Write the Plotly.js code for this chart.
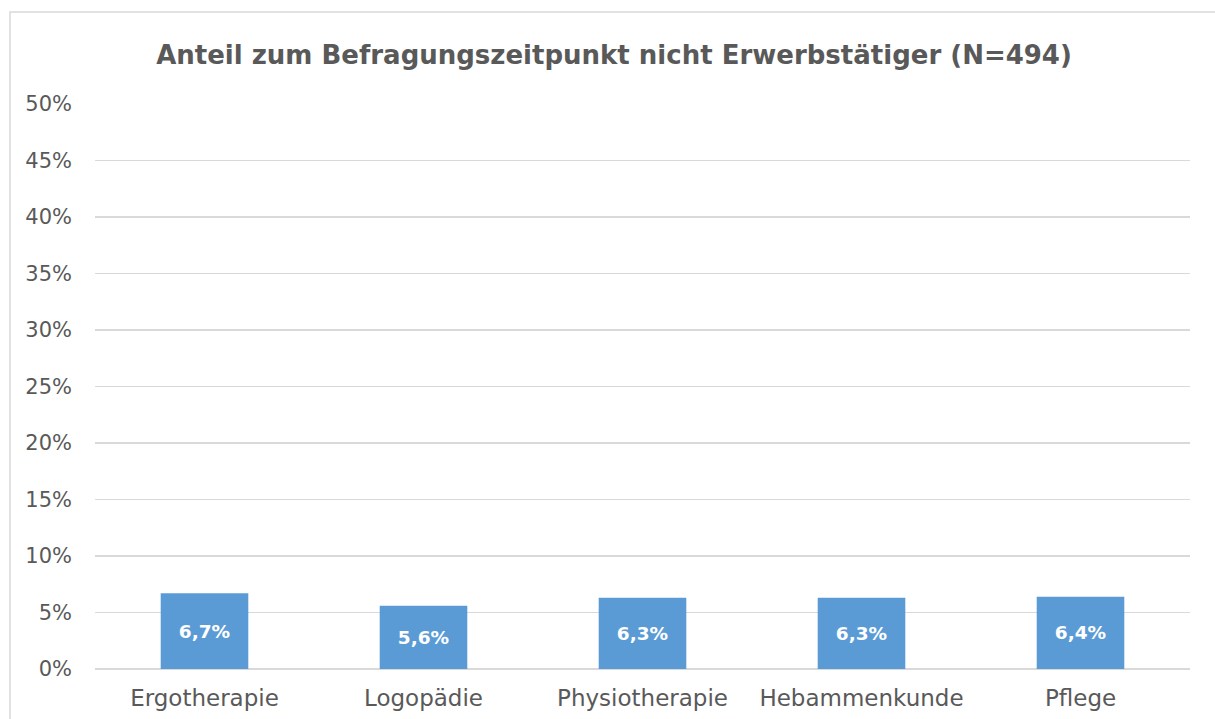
<!DOCTYPE html>
<html><head><meta charset="utf-8">
<script src="https://cdn.plot.ly/plotly-3.0.1.min.js"></script>
<style>html,body{margin:0;padding:0;background:#fff}#chart{width:1215px;height:719px}</style>
</head><body><div id="chart"></div>
<script>
const categories = ["Ergotherapie","Logopädie","Physiotherapie","Hebammenkunde","Pflege"];
const values = [0.067,0.056,0.063,0.063,0.064];
const labels = ["6,7%","5,6%","6,3%","6,3%","6,4%"];
const tickVals = [0,0.05,0.10,0.15,0.20,0.25,0.30,0.35,0.40,0.45,0.50];
const tickText = ["0%","5%","10%","15%","20%","25%","30%","35%","40%","45%","50%"];

const W=1215,H=719,L=95,R=1190,T=104,B=669;
const pw=R-L, ph=B-T;
const px=x=>(x-L)/pw, py=y=>1-(y-T)/ph;

Plotly.newPlot('chart',[{
  type:'bar', x:categories, y:values, text:labels,
  textposition:'inside', insidetextanchor:'middle', textangle:0,
  textfont:{family:'DejaVu Sans, sans-serif',size:18.5,color:'#ffffff',weight:'bold'},
  marker:{color:'#5B9BD5'}, hoverinfo:'none', cliponaxis:false
}],{
  width:W,height:H,
  margin:{l:L,r:W-R,t:T,b:H-B,pad:0},
  paper_bgcolor:'#ffffff',plot_bgcolor:'#ffffff',
  bargap:0.6, showlegend:false,
  title:{text:'Anteil zum Befragungszeitpunkt nicht Erwerbstätiger (N=494)',
    font:{family:'DejaVu Sans, sans-serif',size:26,color:'#595959',weight:'bold'},
    xref:'container',x:614/W,xanchor:'center',y:1-55/H,yanchor:'middle'},
  xaxis:{showgrid:false,zeroline:false,showline:false,ticks:'',
    tickfont:{family:'DejaVu Sans, sans-serif',size:23,color:'#595959'},ticklabelstandoff:13},
  yaxis:{range:[0,0.5],tickvals:tickVals,ticktext:tickText,showgrid:true,gridcolor:'#d9d9d9',gridwidth:1.5,
    zeroline:true,zerolinecolor:'#d9d9d9',zerolinewidth:1.5,showline:false,ticks:'',
    tickfont:{family:'DejaVu Sans, sans-serif',size:21,color:'#595959'},ticklabelstandoff:22},
  shapes:[{type:'rect',xref:'paper',yref:'paper',x0:px(10),x1:px(1260),y0:py(780),y1:py(12),
    line:{color:'#d9d9d9',width:1.5},fillcolor:'rgba(0,0,0,0)',layer:'below'}]
},{staticPlot:true});
</script></body></html>
